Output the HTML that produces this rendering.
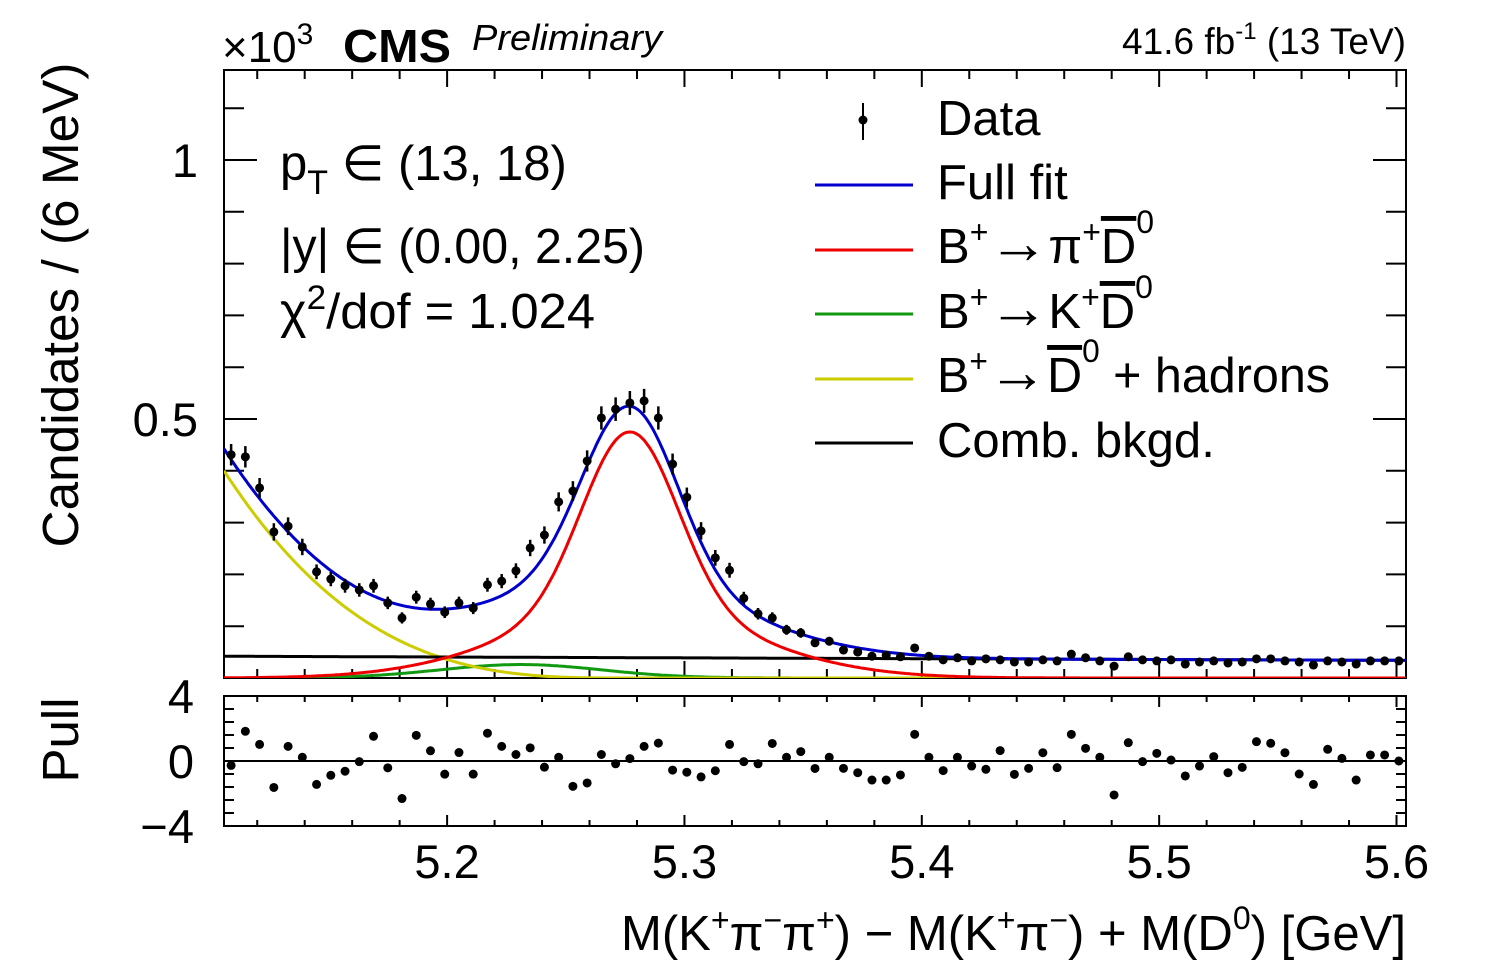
<!DOCTYPE html>
<html><head><meta charset="utf-8"><style>
html,body{margin:0;padding:0;background:#fff;}
svg{display:block;font-family:"Liberation Sans",sans-serif;}
</style></head><body>
<svg id="chart" width="1496" height="972" viewBox="0 0 1496 972" xmlns="http://www.w3.org/2000/svg">
<rect width="1496" height="972" fill="#fff"/>
<g id="main"></g>
<text x="222" y="62" font-size="44">×10<tspan font-size="30" dy="-18">3</tspan></text>
<text x="343" y="62" font-size="46" font-weight="bold" textLength="108" lengthAdjust="spacingAndGlyphs">CMS</text>
<text x="472" y="50" font-size="36" font-style="italic" textLength="190" lengthAdjust="spacingAndGlyphs">Preliminary</text>
<text x="1406" y="54" font-size="37" text-anchor="end">41.6 fb<tspan font-size="24" dy="-15">-1</tspan><tspan dy="15"> (13 TeV)</tspan></text>
<text transform="translate(78,305) rotate(-90)" font-size="51" text-anchor="middle" textLength="485" lengthAdjust="spacingAndGlyphs">Candidates / (6 MeV)</text>
<text transform="translate(78,740) rotate(-90)" font-size="51" text-anchor="middle">Pull</text>
<g font-size="49">
<text x="280" y="180">p<tspan font-size="34" dy="14">T</tspan><tspan dy="-14"> ∈ (13, 18)</tspan></text>
<text x="280" y="263" textLength="365" lengthAdjust="spacingAndGlyphs">|y| ∈ (0.00, 2.25)</text>
<text x="280" y="328" textLength="315" lengthAdjust="spacingAndGlyphs">χ<tspan font-size="34" dy="-19">2</tspan><tspan dy="19">/dof = 1.024</tspan></text>
</g>
<g font-size="49">
<g><line x1="863" y1="103" x2="863" y2="140" stroke="#000" stroke-width="2"/><circle cx="863" cy="120" r="4.5" fill="#000"/><text x="937" y="135">Data</text></g>
<g><line x1="815" y1="185" x2="913" y2="185" stroke="#0000cc" stroke-width="3"/><text x="937" y="199">Full fit</text></g>
<g><line x1="815" y1="250" x2="913" y2="250" stroke="#ee0000" stroke-width="3"/><text x="937" y="263">B<tspan font-size="32" dy="-20">+</tspan><tspan dy="20" font-size="60">→</tspan><tspan>π</tspan><tspan font-size="32" dy="-20">+</tspan><tspan dy="20" text-decoration="overline">D</tspan><tspan font-size="32" dy="-30">0</tspan></text></g>
<g><line x1="815" y1="314" x2="913" y2="314" stroke="#119911" stroke-width="3"/><text x="937" y="328">B<tspan font-size="32" dy="-20">+</tspan><tspan dy="20" font-size="60">→</tspan><tspan>K</tspan><tspan font-size="32" dy="-20">+</tspan><tspan dy="20" text-decoration="overline">D</tspan><tspan font-size="32" dy="-30">0</tspan></text></g>
<g><line x1="815" y1="379" x2="913" y2="379" stroke="#cccc00" stroke-width="3"/><text x="937" y="392" textLength="393" lengthAdjust="spacingAndGlyphs">B<tspan font-size="32" dy="-20">+</tspan><tspan dy="20" font-size="60">→</tspan><tspan text-decoration="overline">D</tspan><tspan font-size="32" dy="-30">0</tspan><tspan dy="30"> + hadrons</tspan></text></g>
<g><line x1="815" y1="443" x2="913" y2="443" stroke="#000" stroke-width="3"/><text x="937" y="457">Comb. bkgd.</text></g>
</g>
<text x="1406" y="950" font-size="49" text-anchor="end" textLength="785" lengthAdjust="spacingAndGlyphs">M(K<tspan font-size="32" dy="-19">+</tspan><tspan dy="19">π</tspan><tspan font-size="32" dy="-19">−</tspan><tspan dy="19">π</tspan><tspan font-size="32" dy="-19">+</tspan><tspan dy="19">) − M(K</tspan><tspan font-size="32" dy="-19">+</tspan><tspan dy="19">π</tspan><tspan font-size="32" dy="-19">−</tspan><tspan dy="19">) + M(D</tspan><tspan font-size="32" dy="-21">0</tspan><tspan dy="21">) [GeV]</tspan></text>
</svg>
<script>
const binCenters0 = 5.109; // first bin centre (GeV)
const binWidth = 0.006;
const counts = [0.431,0.427,0.367,0.282,0.293,0.253,0.205,0.191,0.178,0.170,0.178,0.145,0.116,0.156,0.143,0.127,0.145,0.135,0.180,0.187,0.207,0.251,0.276,0.340,0.361,0.419,0.502,0.519,0.531,0.535,0.502,0.413,0.349,0.284,0.232,0.208,0.154,0.124,0.116,0.093,0.087,0.068,0.071,0.054,0.050,0.042,0.044,0.041,0.058,0.042,0.035,0.039,0.033,0.037,0.035,0.031,0.031,0.035,0.033,0.046,0.039,0.033,0.023,0.041,0.035,0.033,0.035,0.027,0.031,0.033,0.029,0.031,0.037,0.037,0.033,0.031,0.025,0.033,0.031,0.027,0.033,0.033,0.033];
const pulls = [-0.27,1.83,1.02,-1.63,0.90,0.23,-1.44,-0.88,-0.63,-0.04,1.52,-0.42,-2.31,1.58,0.63,-0.81,0.52,-0.81,1.71,0.90,0.40,0.81,-0.38,0.23,-1.56,-1.35,0.40,-0.17,0.15,0.90,1.10,-0.56,-0.69,-0.98,-0.60,1.02,-0.04,-0.17,1.08,0.23,0.58,-0.46,0.23,-0.45,-0.72,-1.17,-1.17,-0.86,1.64,0.23,-0.59,0.23,-0.31,-0.51,0.64,-0.82,-0.45,0.51,-0.41,1.64,0.78,0.23,-2.09,1.13,-0.04,0.47,0.06,-0.92,-0.31,0.27,-0.72,-0.39,1.19,1.09,0.51,-0.80,-1.44,0.72,0.16,-1.17,0.37,0.37,0.00];
const xTickLabels = ["5.2","5.3","5.4","5.5","5.6"];
const yTickLabels = ["0.5","1"];
const pullTickLabels = ["4","0","−4"];
// fit model parameters
const sigPeak = [5.277, 0.345, 0.020, 0.13, 0.050]; // mean, core amp, core sigma, wide amp, wide sigma
const kd0Params = [5.231, 0.026, 0.034];
const partRecoParams = [5.106, 0.40, 0.17, 3.0];
const combParams = [0.042, 0.034];

const X0=224,X1=1406,XMIN=5.106,XMAX=5.604;
const Y0=678,YTOP=70,YMAX=(678-70)/518;
const PT=696,PB=826;
const sx=v=>X0+(v-XMIN)/(XMAX-XMIN)*(X1-X0);
const sy=v=>Y0-v/YMAX*(Y0-YTOP);
const sp=v=>(PT+PB)/2-v*(PB-PT)/8;
const NS="http://www.w3.org/2000/svg";
const g=document.getElementById('main');
function mk(t,a,p){const e=document.createElementNS(NS,t);for(const k in a)e.setAttribute(k,a[k]);(p||g).appendChild(e);return e;}

function sig(m){const d=m-sigPeak[0];return sigPeak[1]*Math.exp(-d*d/(2*sigPeak[2]**2))+sigPeak[3]*Math.exp(-d*d/(2*sigPeak[4]**2));}
function kd0(m){const d=m-kd0Params[0];return kd0Params[1]*Math.exp(-d*d/(2*kd0Params[2]**2));}
function preco(m){const t=(m-partRecoParams[0])/partRecoParams[2];return t>=1?0:partRecoParams[1]*Math.pow(1-t,partRecoParams[3]);}
function comb(m){const t=(m-XMIN)/(XMAX-XMIN);return combParams[0]+(combParams[1]-combParams[0])*t;}
function full(m){return sig(m)+kd0(m)+preco(m)+comb(m);}

const f1=mk('rect',{x:X0,y:YTOP,width:X1-X0,height:Y0-YTOP,fill:'none',stroke:'#000','stroke-width':2});

const f2=mk('rect',{x:X0,y:PT,width:X1-X0,height:PB-PT,fill:'none',stroke:'#000','stroke-width':2});


for(let k=0;k<=25;k++){const v=5.12+k*0.02;if(v>XMAX+1e-9)break;const x=sx(v);const maj=Math.abs((v*10)-Math.round(v*10))<1e-6;
 const L=maj?17:9,Lp=maj?11:6;
 mk('line',{x1:x,y1:Y0,x2:x,y2:Y0-L,stroke:'#000','stroke-width':2});
 mk('line',{x1:x,y1:YTOP,x2:x,y2:YTOP+L,stroke:'#000','stroke-width':2});
 mk('line',{x1:x,y1:PB,x2:x,y2:PB-Lp,stroke:'#000','stroke-width':2});
 mk('line',{x1:x,y1:PT,x2:x,y2:PT+Lp,stroke:'#000','stroke-width':2});}
xTickLabels.forEach(s=>{const t=mk('text',{x:sx(parseFloat(s)),y:878,'font-size':47,'text-anchor':'middle'});t.textContent=s;
 
 });
for(let k=1;k<=11;k++){const v=k*0.1;const y=sy(v);const maj=k%5==0;const L=maj?33:20;
 mk('line',{x1:X0,y1:y,x2:X0+L,y2:y,stroke:'#000','stroke-width':2});
 mk('line',{x1:X1,y1:y,x2:X1-L,y2:y,stroke:'#000','stroke-width':2});}
yTickLabels.forEach(s=>{const t=mk('text',{x:198,y:sy(parseFloat(s))+17,'font-size':47,'text-anchor':'end'});t.textContent=s;
 
 });
for(let k=-5;k<=5;k++){const v=k*0.8;const y=sp(v);if(y<PT||y>PB)continue;const L=k%5==0?20:10;
 mk('line',{x1:X0,y1:y,x2:X0+L,y2:y,stroke:'#000','stroke-width':2});
 mk('line',{x1:X1,y1:y,x2:X1-L,y2:y,stroke:'#000','stroke-width':2});}
pullTickLabels.forEach(s=>{const v=parseFloat(s.replace('−','-'));const t=mk('text',{x:194,y:sp(v)+17,'font-size':47,'text-anchor':'end'});t.textContent=s;
 
 });
const zl=mk('line',{x1:X0,y1:sp(0),x2:X1,y2:sp(0),stroke:'#000','stroke-width':2});



const clip=mk('clipPath',{id:'clp'});mk('rect',{x:X0,y:YTOP,width:X1-X0,height:Y0-YTOP},clip);
function curve(fn,col,name){let d='';for(let i=0;i<=600;i++){const m=XMIN+(XMAX-XMIN)*i/600;const v=fn(m);d+=(i?'L':'M')+sx(m).toFixed(1)+','+sy(v).toFixed(1);}
 const p=mk('path',{d:d,fill:'none',stroke:col,'stroke-width':3,'clip-path':'url(#clp)'});
 
 }
curve(kd0,'#119911','curve-kd0');
curve(preco,'#cccc00','curve-partreco');
curve(comb,'#000000','curve-comb');
curve(sig,'#ee0000','curve-signal');
curve(full,'#0000cc','curve-full-fit');

counts.forEach((v,i)=>{const m=binCenters0+i*binWidth;const x=sx(m),y=sy(v);const e=Math.sqrt(v*1000)/1000;
 const gg=mk('g',{});
 
 
 mk('line',{x1:x,y1:sy(v-e),x2:x,y2:sy(v+e),stroke:'#000','stroke-width':2.5},gg);
 mk('circle',{cx:x,cy:y,r:4.5,fill:'#000'},gg);});
pulls.forEach((v,i)=>{const m=binCenters0+i*binWidth;
 const c=mk('circle',{cx:sx(m),cy:sp(v),r:4.5,fill:'#000'});
 
 });
</script>
</body></html>
